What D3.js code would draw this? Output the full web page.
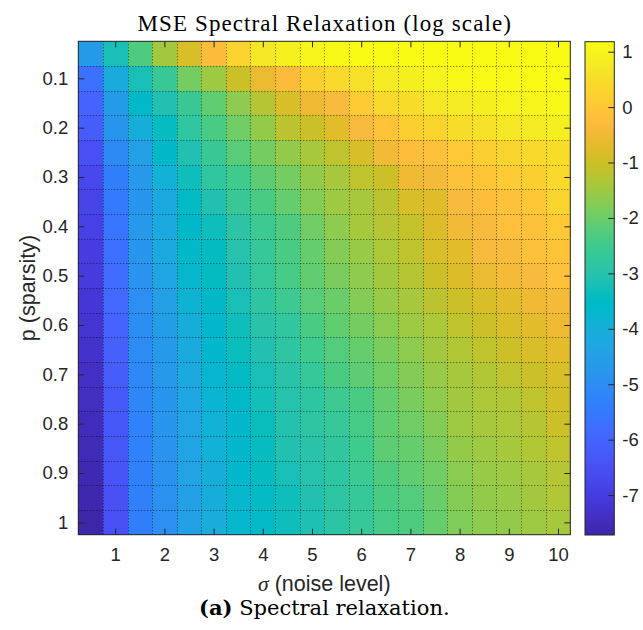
<!DOCTYPE html>
<html><head><meta charset="utf-8">
<script src="https://cdn.jsdelivr.net/npm/d3@7"></script>
<style>body{margin:0;background:#fff} svg{display:block}</style>
</head><body><svg id="chart" width="643" height="630"></svg>
<script>
// ---- data ----
const sigmaValues = [0.5,1,1.5,2,2.5,3,3.5,4,4.5,5,5.5,6,6.5,7,7.5,8,8.5,9,9.5,10];
const pValues = [0.05,0.1,0.15,0.2,0.25,0.3,0.35,0.4,0.45,0.5,0.55,0.6,0.65,0.7,0.75,0.8,0.85,0.9,0.95,1.0];
const xTickValues = [1,2,3,4,5,6,7,8,9,10];
const yTickValues = [0.1,0.2,0.3,0.4,0.5,0.6,0.7,0.8,0.9,1.0];
const colorbarTicks = [1,0,-1,-2,-3,-4,-5,-6,-7];
// log10 MSE, one row per p (top to bottom), one column per sigma
const mseLog = [
 [-4.6,-3.2,-2.3,-1.45,-0.85,-0.3,0.3,0.7,0.95,1.05,1.1,1.18,1.18,1.18,1.18,1.18,1.18,1.18,1.18,1.18],
 [-5.7,-4.1,-3.2,-2.6,-1.9,-1.5,-1.0,-0.6,-0.3,0.2,0.4,0.55,0.8,0.9,1.0,1.1,1.15,1.15,1.18,1.18],
 [-6.0,-4.6,-3.6,-3.1,-2.6,-2.1,-1.65,-1.25,-0.85,-0.55,-0.35,0.1,0.4,0.5,0.7,0.8,0.9,1.0,1.05,1.1],
 [-6.2,-4.8,-4.0,-3.4,-2.8,-2.35,-1.95,-1.6,-1.2,-1.0,-0.7,-0.4,-0.1,0.2,0.3,0.5,0.55,0.7,0.8,0.9],
 [-6.5,-5.1,-4.5,-3.6,-3.1,-2.6,-2.2,-1.9,-1.6,-1.4,-1.15,-0.85,-0.5,-0.25,-0.15,0.05,0.2,0.3,0.4,0.5],
 [-6.7,-5.4,-4.7,-3.9,-3.3,-2.8,-2.5,-2.15,-1.9,-1.6,-1.4,-1.15,-1.0,-0.55,-0.45,-0.15,-0.05,0.1,0.2,0.4],
 [-6.8,-5.5,-4.8,-4.2,-3.5,-3.1,-2.6,-2.35,-2.05,-1.75,-1.5,-1.4,-1.2,-0.85,-0.75,-0.4,-0.25,-0.15,0.0,0.3],
 [-6.9,-5.6,-4.7,-4.2,-3.6,-3.3,-2.9,-2.55,-2.3,-1.95,-1.65,-1.4,-1.25,-1.1,-0.8,-0.5,-0.4,-0.2,-0.15,0.05],
 [-7.0,-5.7,-4.8,-4.2,-3.6,-3.45,-3.0,-2.65,-2.35,-2.05,-1.75,-1.55,-1.35,-1.15,-0.85,-0.7,-0.4,-0.35,-0.15,-0.1],
 [-7.05,-5.8,-4.85,-4.3,-3.7,-3.45,-3.1,-2.7,-2.4,-2.1,-1.85,-1.65,-1.45,-1.25,-1.0,-0.8,-0.6,-0.45,-0.35,-0.15],
 [-7.15,-5.9,-4.95,-4.5,-3.85,-3.6,-3.2,-2.85,-2.55,-2.2,-2.0,-1.75,-1.55,-1.4,-1.2,-1.0,-0.85,-0.7,-0.55,-0.45],
 [-7.2,-6.0,-5.0,-4.55,-4.0,-3.65,-3.3,-2.95,-2.75,-2.35,-2.1,-1.9,-1.7,-1.5,-1.35,-1.15,-1.0,-0.85,-0.7,-0.55],
 [-7.3,-6.1,-5.05,-4.65,-4.15,-3.65,-3.35,-3.1,-2.85,-2.5,-2.25,-2.05,-1.85,-1.65,-1.45,-1.3,-1.15,-1.0,-0.85,-0.7],
 [-7.4,-6.2,-5.15,-4.7,-4.2,-3.75,-3.5,-3.2,-2.95,-2.65,-2.35,-2.15,-1.95,-1.75,-1.55,-1.4,-1.3,-1.15,-1.0,-0.85],
 [-7.45,-6.25,-5.2,-4.8,-4.25,-3.8,-3.6,-3.25,-3.0,-2.85,-2.55,-2.35,-2.05,-1.85,-1.65,-1.45,-1.35,-1.3,-1.15,-0.95],
 [-7.5,-6.3,-5.3,-4.8,-4.35,-3.9,-3.65,-3.35,-3.05,-2.85,-2.65,-2.4,-2.1,-1.95,-1.75,-1.5,-1.4,-1.35,-1.25,-1.0],
 [-7.55,-6.35,-5.3,-4.85,-4.35,-3.9,-3.65,-3.4,-3.1,-2.95,-2.75,-2.5,-2.15,-2.05,-1.85,-1.6,-1.5,-1.4,-1.3,-1.15],
 [-7.6,-6.4,-5.35,-4.9,-4.4,-4.0,-3.65,-3.45,-3.2,-3.0,-2.85,-2.55,-2.3,-2.1,-1.95,-1.7,-1.55,-1.5,-1.4,-1.25],
 [-7.65,-6.45,-5.35,-4.9,-4.5,-4.0,-3.7,-3.5,-3.3,-3.1,-2.85,-2.65,-2.35,-2.25,-2.0,-1.75,-1.6,-1.55,-1.45,-1.3],
 [-7.72,-6.5,-5.4,-4.95,-4.5,-4.05,-3.7,-3.55,-3.3,-3.15,-2.9,-2.65,-2.4,-2.3,-2.05,-1.8,-1.65,-1.6,-1.5,-1.4]
];

// parula colormap (64 entries)
const parula = [
[0.2422,0.1504,0.6603],[0.2504,0.1650,0.7076],[0.2578,0.1818,0.7511],[0.2647,0.1978,0.7952],
[0.2706,0.2147,0.8364],[0.2751,0.2342,0.8710],[0.2783,0.2559,0.8991],[0.2803,0.2782,0.9221],
[0.2813,0.3006,0.9414],[0.2810,0.3228,0.9579],[0.2795,0.3447,0.9717],[0.2760,0.3667,0.9829],
[0.2699,0.3892,0.9906],[0.2602,0.4123,0.9952],[0.2440,0.4358,0.9988],[0.2206,0.4603,0.9973],
[0.1963,0.4847,0.9892],[0.1834,0.5074,0.9798],[0.1786,0.5289,0.9682],[0.1764,0.5499,0.9520],
[0.1687,0.5703,0.9359],[0.1540,0.5902,0.9218],[0.1460,0.6091,0.9079],[0.1380,0.6276,0.8973],
[0.1248,0.6459,0.8883],[0.1113,0.6635,0.8763],[0.0952,0.6798,0.8598],[0.0689,0.6948,0.8394],
[0.0297,0.7082,0.8163],[0.0036,0.7203,0.7917],[0.0067,0.7312,0.7660],[0.0433,0.7411,0.7394],
[0.0964,0.7500,0.7120],[0.1408,0.7584,0.6842],[0.1717,0.7670,0.6554],[0.1938,0.7758,0.6251],
[0.2161,0.7843,0.5923],[0.2470,0.7918,0.5567],[0.2906,0.7973,0.5188],[0.3406,0.8008,0.4789],
[0.3909,0.8029,0.4354],[0.4456,0.8024,0.3909],[0.5044,0.7993,0.3480],[0.5616,0.7942,0.3045],
[0.6174,0.7876,0.2612],[0.6720,0.7793,0.2227],[0.7242,0.7698,0.1910],[0.7738,0.7598,0.1646],
[0.8203,0.7498,0.1535],[0.8634,0.7406,0.1596],[0.9035,0.7330,0.1774],[0.9393,0.7288,0.2100],
[0.9728,0.7298,0.2394],[0.9956,0.7434,0.2371],[0.9970,0.7659,0.2199],[0.9952,0.7893,0.2028],
[0.9892,0.8136,0.1885],[0.9786,0.8386,0.1766],[0.9676,0.8639,0.1643],[0.9610,0.8890,0.1537],
[0.9597,0.9135,0.1423],[0.9628,0.9373,0.1265],[0.9691,0.9606,0.1064],[0.9769,0.9839,0.0805]
].map(c => d3.rgb(c[0]*255, c[1]*255, c[2]*255).formatHex());

// ---- layout ----
const svg = d3.select("#chart");
svg.append("rect").attr("width",643).attr("height",630).attr("fill","#fff");
const L = 78.3, R = 570.3, T = 41.3, B = 534.7;
const cbL = 585, cbR = 614.3, cbT = 41.7, cbB = 535;
const axisColor = "#262626";
const sans = "'Liberation Sans', Arial, Helvetica, sans-serif";
const serif = "'Liberation Serif', 'Times New Roman', serif";
const bookSerif = "'DejaVu Serif', serif";

const x = d3.scaleLinear().domain([0.25, 10.25]).range([L, R]);
const y = d3.scaleLinear().domain([0.025, 1.025]).range([T, B]);
const ext = d3.extent(mseLog.flat());
const color = d3.scaleLinear()
  .domain(parula.map((_, i) => ext[0] + (ext[1]-ext[0]) * i / (parula.length-1)))
  .range(parula).clamp(true);

const dx = 0.25, dp = 0.025;
const cells = [];
pValues.forEach((p, i) => sigmaValues.forEach((s, j) => cells.push({p, s, v: mseLog[i][j]})));
svg.append("g").selectAll("rect").data(cells).join("rect")
  .attr("x", d => x(d.s - dx)).attr("y", d => y(d.p - dp))
  .attr("width", d => x(d.s + dx) - x(d.s - dx) + 0.5)
  .attr("height", d => y(d.p + dp) - y(d.p - dp) + 0.5)
  .attr("fill", d => color(d.v))
  .attr("shape-rendering", "crispEdges");

// dotted grid at cell boundaries
const grid = svg.append("g").attr("stroke", "#000").attr("stroke-opacity", 0.6)
  .attr("stroke-width", 1).attr("stroke-dasharray", "1,2");
sigmaValues.slice(1).forEach(s => {
  const xx = Math.round(x(s - dx)) + 0.5;
  grid.append("line").attr("x1", xx).attr("x2", xx).attr("y1", T).attr("y2", B);
});
pValues.slice(1).forEach(p => {
  const yy = Math.round(y(p - dp)) + 0.5;
  grid.append("line").attr("y1", yy).attr("y2", yy).attr("x1", L).attr("x2", R);
});

function styleAxis(g) {
  g.select(".domain").remove();
  g.selectAll(".tick line").attr("stroke", axisColor);
  g.selectAll(".tick text").attr("fill", axisColor).attr("font-family", sans).attr("font-size", 18.5);
}
const fmt = d => String(+(+d).toFixed(1));
// bottom axis (inward ticks)
svg.append("g").attr("transform", `translate(0,${B})`)
  .call(d3.axisBottom(x).tickValues(xTickValues).tickSize(-6).tickPadding(13).tickFormat(fmt))
  .call(styleAxis);
// top axis ticks only
svg.append("g").attr("transform", `translate(0,${T})`)
  .call(d3.axisTop(x).tickValues(xTickValues).tickSize(-6).tickFormat(""))
  .call(styleAxis);
// left axis
svg.append("g").attr("transform", `translate(${L},0)`)
  .call(d3.axisLeft(y).tickValues(yTickValues).tickSize(-6).tickPadding(10).tickFormat(fmt))
  .call(styleAxis);
// right axis ticks only
svg.append("g").attr("transform", `translate(${R},0)`)
  .call(d3.axisRight(y).tickValues(yTickValues).tickSize(-6).tickFormat(""))
  .call(styleAxis);
// box
svg.append("rect").attr("x", L).attr("y", T).attr("width", R-L).attr("height", B-T)
  .attr("fill", "none").attr("stroke", axisColor).attr("stroke-width", 1);

// colorbar
const cb = d3.scaleLinear().domain(ext).range([cbB, cbT]);
const defs = svg.append("defs");
const grad = defs.append("linearGradient").attr("id", "parulaGrad")
  .attr("x1", 0).attr("y1", 1).attr("x2", 0).attr("y2", 0);
parula.forEach((c, i) => grad.append("stop").attr("offset", i/(parula.length-1)).attr("stop-color", c));
svg.append("rect").attr("x", cbL).attr("y", cbT).attr("width", cbR-cbL).attr("height", cbB-cbT)
  .attr("fill", "url(#parulaGrad)");
svg.append("g").attr("transform", `translate(${cbR},0)`)
  .call(d3.axisRight(cb).tickValues(colorbarTicks).tickSize(-6).tickPadding(8).tickFormat(d => String(d)))
  .call(styleAxis);
svg.append("rect").attr("x", cbL).attr("y", cbT).attr("width", cbR-cbL).attr("height", cbB-cbT)
  .attr("fill", "none").attr("stroke", axisColor).attr("stroke-width", 1);

// title & labels
svg.append("text").attr("x", (L+R)/2 + 0.5).attr("y", 30.7).attr("text-anchor", "middle")
  .attr("font-family", serif).attr("font-size", 23).attr("letter-spacing", "1.1px").attr("fill", "#000")
  .text("MSE Spectral Relaxation (log scale)");
svg.append("text").attr("transform", `translate(35,${(T+B)/2}) rotate(-90)`)
  .attr("text-anchor", "middle").attr("font-family", sans).attr("font-size", 21.5).attr("fill", axisColor)
  .text("p (sparsity)");
const xl = svg.append("text").attr("x", (L+R)/2).attr("y", 591).attr("text-anchor", "middle")
  .attr("font-family", sans).attr("font-size", 21.5).attr("fill", axisColor);
xl.append("tspan").attr("font-family", serif).attr("font-style", "italic").text("σ");
xl.append("tspan").text(" (noise level)");
const cap = svg.append("text").attr("x", (L+R)/2).attr("y", 615).attr("text-anchor", "middle")
  .attr("font-family", bookSerif).attr("font-size", 21).attr("fill", "#000");
cap.append("tspan").attr("font-weight", "bold").text("(a)");
cap.append("tspan").text(" Spectral relaxation.");
</script></body></html>
